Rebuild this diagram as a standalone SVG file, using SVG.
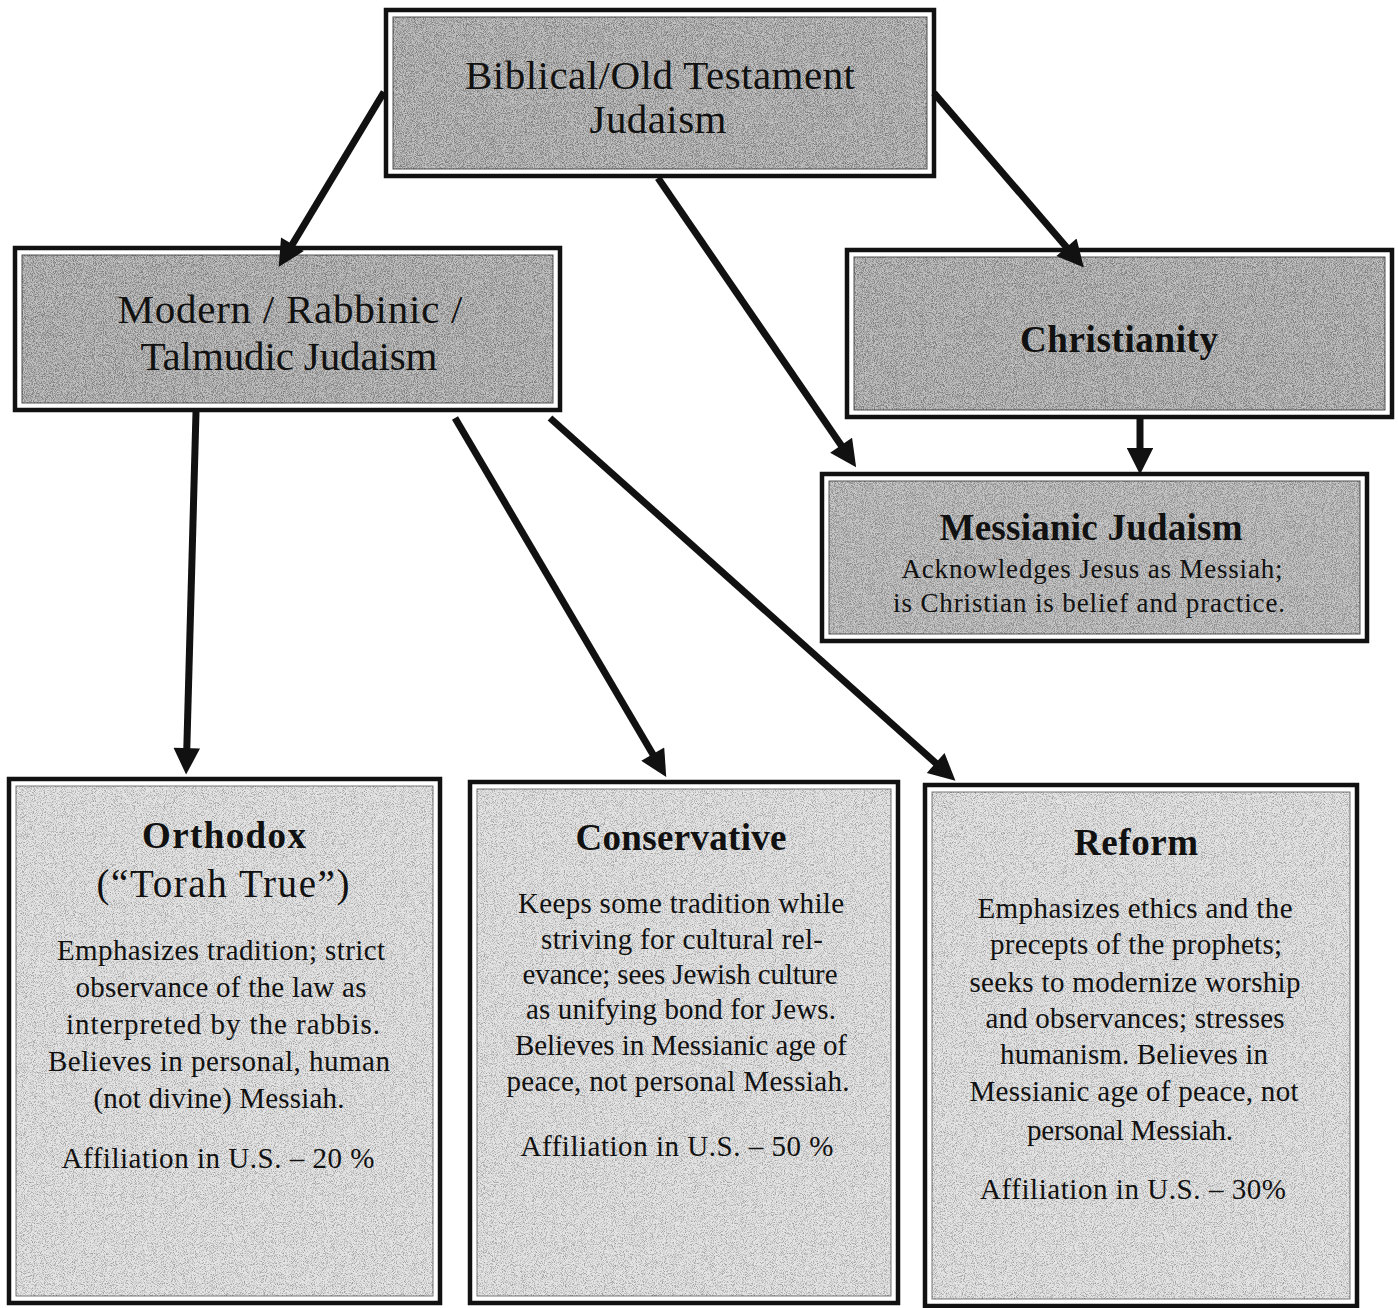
<svg xmlns="http://www.w3.org/2000/svg" width="1398" height="1308" viewBox="0 0 1398 1308">
<style>
  .outer { fill: #ffffff; stroke: #111; stroke-width: 4.5; }
  .dark { fill: #c2c2c2; stroke: #555; stroke-width: 1; }
  .light { fill: #e4e4e4; stroke: #777; stroke-width: 1; }
  .grain { fill: #000; filter: url(#grain); }
  .grainL { fill: #000; filter: url(#grainL); }
  text { font-family: "Liberation Serif", "Times New Roman", serif; fill: #111; text-anchor: middle; }
  .head { font-size: 41px; }
  .title { font-size: 37px; font-weight: bold; }
  .sub { font-size: 27px; }
  .body { font-size: 29px; }
  .conn line { stroke: #111; stroke-width: 7; marker-end: url(#ah); }
</style>
<defs>
  <filter id="grain" x="0" y="0" width="100%" height="100%" color-interpolation-filters="sRGB">
    <feTurbulence type="fractalNoise" baseFrequency="1.1" numOctaves="2" seed="4"/>
    <feColorMatrix type="matrix" values="0 0 0 0 0  0 0 0 0 0  0 0 0 0 0  3.2 0 0 0 -1.25"/>
    <feComposite in2="SourceGraphic" operator="in"/>
  </filter>
  <filter id="grainL" x="0" y="0" width="100%" height="100%" color-interpolation-filters="sRGB">
    <feTurbulence type="fractalNoise" baseFrequency="1.1" numOctaves="2" seed="9"/>
    <feColorMatrix type="matrix" values="0 0 0 0 0  0 0 0 0 0  0 0 0 0 0  3.2 0 0 0 -1.45"/>
    <feComposite in2="SourceGraphic" operator="in"/>
  </filter>
  <marker id="ah" viewBox="0 0 10 10" refX="3" refY="5" markerWidth="4.3" markerHeight="3.8" markerUnits="strokeWidth" orient="auto">
    <path d="M0,0 L10,5 L0,10 z" fill="#111"/>
  </marker>
</defs>

<g id="biblical">
  <rect class="outer" x="386" y="10" width="548" height="166"/>
  <rect class="dark" x="393" y="17" width="534" height="152"/>
  <rect class="grain" x="393" y="17" width="534" height="152" opacity="0.35"/>
  <text class="head" x="660" y="89" textLength="390" lengthAdjust="spacing">Biblical/Old Testament</text>
  <text class="head" x="658" y="133" textLength="137" lengthAdjust="spacing">Judaism</text>
</g>

<g id="modern">
  <rect class="outer" x="15" y="248" width="545" height="162"/>
  <rect class="dark" x="22" y="255" width="531" height="148"/>
  <rect class="grain" x="22" y="255" width="531" height="148" opacity="0.35"/>
  <text class="head" x="290" y="323" textLength="345" lengthAdjust="spacing">Modern / Rabbinic /</text>
  <text class="head" x="289" y="370" textLength="297" lengthAdjust="spacing">Talmudic Judaism</text>
</g>

<g id="christianity">
  <rect class="outer" x="847" y="250" width="545" height="167"/>
  <rect class="dark" x="854" y="257" width="531" height="153"/>
  <rect class="grain" x="854" y="257" width="531" height="153" opacity="0.35"/>
  <text class="title" x="1119" y="352" textLength="198" lengthAdjust="spacing">Christianity</text>
</g>

<g id="messianic">
  <rect class="outer" x="822" y="474" width="545" height="167"/>
  <rect class="dark" x="829" y="481" width="531" height="153" style="fill:#c8c8c8"/>
  <rect class="grain" x="829" y="481" width="531" height="153" opacity="0.3"/>
  <text class="title" x="1091" y="540" textLength="303" lengthAdjust="spacing">Messianic Judaism</text>
  <text class="sub" x="1092" y="578" textLength="381" lengthAdjust="spacing">Acknowledges Jesus as Messiah;</text>
  <text class="sub" x="1089" y="612" textLength="392" lengthAdjust="spacing">is Christian is belief and practice.</text>
</g>

<g id="orthodox">
  <rect class="outer" x="9" y="779" width="431" height="524"/>
  <rect class="light" x="16" y="786" width="417" height="510"/>
  <rect class="grainL" x="16" y="786" width="417" height="510" opacity="0.3"/>
  <text class="title" x="224" y="848" textLength="164" lengthAdjust="spacing">Orthodox</text>
  <text class="title" x="223" y="897" textLength="253" lengthAdjust="spacing" style="font-weight:normal;font-size:39px">(“Torah True”)</text>
  <text class="body" x="221" y="960" textLength="328" lengthAdjust="spacing">Emphasizes tradition; strict</text>
  <text class="body" x="221" y="997" textLength="291" lengthAdjust="spacing">observance of the law as</text>
  <text class="body" x="223" y="1034" textLength="314" lengthAdjust="spacing">interpreted by the rabbis.</text>
  <text class="body" x="219" y="1071" textLength="342" lengthAdjust="spacing">Believes in personal, human</text>
  <text class="body" x="219" y="1108" textLength="251" lengthAdjust="spacing">(not divine) Messiah.</text>
  <text class="body" x="218" y="1168" textLength="313" lengthAdjust="spacing">Affiliation in U.S. – 20 %</text>
</g>

<g id="conservative">
  <rect class="outer" x="470" y="782" width="428" height="521"/>
  <rect class="light" x="477" y="789" width="414" height="507"/>
  <rect class="grainL" x="477" y="789" width="414" height="507" opacity="0.3"/>
  <text class="title" x="681" y="850" textLength="211" lengthAdjust="spacing">Conservative</text>
  <text class="body" x="681" y="913" textLength="326" lengthAdjust="spacing">Keeps some tradition while</text>
  <text class="body" x="682" y="949" textLength="282" lengthAdjust="spacing">striving for cultural rel-</text>
  <text class="body" x="680" y="984" textLength="315" lengthAdjust="spacing">evance; sees Jewish culture</text>
  <text class="body" x="681" y="1019" textLength="310" lengthAdjust="spacing">as unifying bond for Jews.</text>
  <text class="body" x="681" y="1055" textLength="332" lengthAdjust="spacing">Believes in Messianic age of</text>
  <text class="body" x="678" y="1091" textLength="343" lengthAdjust="spacing">peace, not personal Messiah.</text>
  <text class="body" x="677" y="1156" textLength="313" lengthAdjust="spacing">Affiliation in U.S. – 50 %</text>
</g>

<g id="reform">
  <rect class="outer" x="925" y="785" width="432" height="521"/>
  <rect class="light" x="932" y="792" width="418" height="507"/>
  <rect class="grainL" x="932" y="792" width="418" height="507" opacity="0.3"/>
  <text class="title" x="1136" y="855" textLength="124" lengthAdjust="spacing">Reform</text>
  <text class="body" x="1135" y="918" textLength="315" lengthAdjust="spacing">Emphasizes ethics and the</text>
  <text class="body" x="1136" y="954" textLength="292" lengthAdjust="spacing">precepts of the prophets;</text>
  <text class="body" x="1135" y="992" textLength="331" lengthAdjust="spacing">seeks to modernize worship</text>
  <text class="body" x="1135" y="1028" textLength="299" lengthAdjust="spacing">and observances; stresses</text>
  <text class="body" x="1134" y="1064" textLength="268" lengthAdjust="spacing">humanism. Believes in</text>
  <text class="body" x="1134" y="1101" textLength="329" lengthAdjust="spacing">Messianic age of peace, not</text>
  <text class="body" x="1130" y="1140" textLength="206" lengthAdjust="spacing">personal Messiah.</text>
  <text class="body" x="1133" y="1199" textLength="306" lengthAdjust="spacing">Affiliation in U.S. – 30%</text>
</g>

<g id="connectors" class="conn">
  <line x1="384" y1="92" x2="288.3" y2="251.1"/>
  <line x1="658" y1="178" x2="845.6" y2="451.8"/>
  <line x1="934" y1="93" x2="1071.7" y2="253.3"/>
  <line x1="1140" y1="418" x2="1140" y2="456"/>
  <line x1="196" y1="412" x2="186.6" y2="756"/>
  <line x1="455" y1="418" x2="656.8" y2="761"/>
  <line x1="550" y1="418" x2="941.6" y2="768.3"/>
</g>
</svg>
